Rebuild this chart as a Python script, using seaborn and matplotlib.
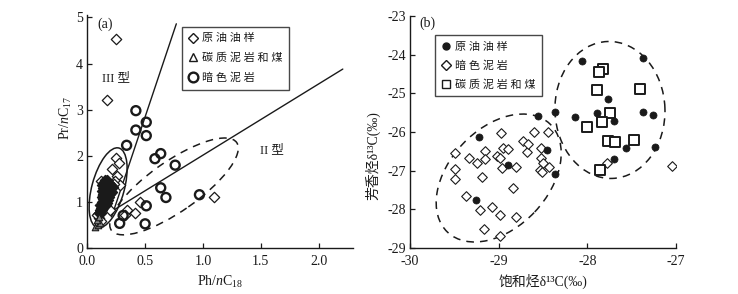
import matplotlib
matplotlib.use('Agg')
import matplotlib.pyplot as plt
import matplotlib.transforms as mtransforms
from matplotlib.patches import Ellipse
from matplotlib.lines import Line2D
import seaborn as sns

# ---- (a) Pr/nC17 - Ph/nC18 ----
oil_a_x = [0.25, 0.17, 0.25, 0.27, 0.21, 0.26, 0.24, 0.28, 0.14, 0.11, 0.095,
           0.20, 0.34, 0.41, 0.46, 0.33, 1.10, 0.10, 0.12, 0.08, 0.12, 0.23]
oil_a_y = [4.54, 3.21, 1.95, 1.85, 1.72, 1.56, 1.45, 1.36, 1.15, 0.93, 0.75,
           0.83, 0.82, 0.76, 1.01, 0.72, 1.12, 0.65, 0.60, 0.72, 1.45, 1.40]
# dense oil samples inside the solid ellipse (overlap into a dark patch)
oil_cl_x = [0.15, 0.17, 0.14, 0.16, 0.185, 0.20, 0.13, 0.155, 0.17, 0.19, 0.21,
            0.14, 0.16, 0.18, 0.20, 0.22, 0.13, 0.15, 0.175, 0.19, 0.21,
            0.14, 0.16, 0.18, 0.20, 0.13, 0.15, 0.17, 0.19, 0.14, 0.16, 0.18,
            0.13, 0.15, 0.17, 0.12, 0.14, 0.16, 0.12, 0.14, 0.11, 0.13,
            0.10, 0.12]
oil_cl_y = [1.48, 1.47, 1.42, 1.43, 1.41, 1.40, 1.36, 1.37, 1.35, 1.36, 1.34,
            1.30, 1.31, 1.29, 1.30, 1.32, 1.24, 1.25, 1.23, 1.24, 1.22,
            1.18, 1.19, 1.17, 1.18, 1.12, 1.13, 1.11, 1.12, 1.06, 1.07, 1.05,
            1.00, 1.01, 0.99, 0.94, 0.95, 0.93, 0.88, 0.87, 0.82, 0.83,
            0.76, 0.77]
coal_a_x = [0.07, 0.09, 0.11, 0.08, 0.10]
coal_a_y = [0.47, 0.50, 0.55, 0.62, 0.68]
mud_a_x = [0.42, 0.51, 0.42, 0.51, 0.34, 0.585, 0.635, 0.76, 0.635, 0.68,
           0.97, 0.51, 0.31, 0.28, 0.50]
mud_a_y = [2.98, 2.73, 2.56, 2.44, 2.23, 1.94, 2.05, 1.80, 1.31, 1.10,
           1.16, 0.92, 0.71, 0.54, 0.53]
# type boundary lines
line3_x = [0.23, 0.77]
line3_y = [0.83, 4.86]
line2_x = [0.23, 2.21]
line2_y = [0.83, 3.88]

# ---- (b) aromatic vs saturated d13C ----
oil_b_x = [-28.06, -27.37, -27.77, -28.36, -28.56, -28.14, -27.89, -27.70,
           -27.37, -27.26, -27.56, -27.24, -27.70, -29.22, -28.46, -28.89,
           -28.36, -29.26]
oil_b_y = [-24.17, -24.09, -25.15, -25.47, -25.58, -25.60, -25.52, -25.71,
           -25.47, -25.56, -26.42, -26.38, -26.71, -26.14, -26.47, -26.85,
           -27.09, -27.76]
mud_b_x = [-29.49, -29.49, -29.49, -29.33, -29.25, -29.16, -29.15, -29.19,
           -28.97, -29.02, -28.95, -28.89, -28.98, -28.96, -28.80, -28.73,
           -28.68, -28.67, -28.60, -28.44, -28.52, -28.52, -28.50, -28.53,
           -28.51, -28.43, -28.84, -29.37, -29.21, -29.08, -28.99, -28.80,
           -29.17, -28.98, -27.78, -27.04]
mud_b_y = [-26.55, -26.95, -27.21, -26.67, -26.79, -26.48, -26.71, -27.16,
           -26.03, -26.62, -26.41, -26.44, -26.68, -26.94, -26.90, -26.23,
           -26.51, -26.32, -26.01, -26.00, -26.41, -26.68, -26.79, -26.98,
           -27.03, -26.90, -27.46, -27.66, -28.03, -27.93, -28.15, -28.21,
           -28.52, -28.69, -26.79, -26.87]
coal_b_x = [-27.82, -27.87, -27.89, -27.41, -27.75, -27.83, -28.00, -27.77,
            -27.69, -27.47, -27.86]
coal_b_y = [-24.38, -24.45, -24.91, -24.89, -25.52, -25.73, -25.88, -26.23,
            -26.25, -26.21, -26.97]

ink = '#1a1a1a'

sns.set_theme(style='ticks')
plt.rcParams['font.family'] = ['Liberation Serif', 'Noto Sans CJK SC']
plt.rcParams['mathtext.fontset'] = 'custom'
plt.rcParams['mathtext.rm'] = 'Liberation Serif'
plt.rcParams['mathtext.it'] = 'Liberation Serif:italic'
plt.rcParams['axes.unicode_minus'] = False
plt.rcParams['xtick.direction'] = 'in'
plt.rcParams['ytick.direction'] = 'in'
plt.rcParams['axes.edgecolor'] = ink
plt.rcParams['xtick.color'] = ink
plt.rcParams['ytick.color'] = ink
plt.rcParams['text.color'] = ink
plt.rcParams['axes.labelcolor'] = ink

fig = plt.figure(figsize=(7.38, 2.94), dpi=100)
ax1 = fig.add_axes([0.1183, 0.1554, 0.3603, 0.7935])
ax2 = fig.add_axes([0.5556, 0.1565, 0.3604, 0.789])


def draw_ellipse(ax, cx, cy, a_px, b_px, angle, ls):
    # semi axes given in figure pixels (dpi 100), centre in data units
    tr = fig.dpi_scale_trans + mtransforms.ScaledTranslation(cx, cy, ax.transData)
    e = Ellipse((0, 0), 2 * a_px / 100, 2 * b_px / 100, angle=angle,
                transform=tr, fill=False, edgecolor=ink, lw=1.1, linestyle=ls)
    ax.add_patch(e)


# ---------- panel (a) ----------
ax1.set_xlim(0, 2.3)
ax1.set_ylim(0, 5.05)
ax1.plot(line3_x, line3_y, color=ink, lw=1.0)
ax1.plot(line2_x, line2_y, color=ink, lw=1.0)
draw_ellipse(ax1, 0.18, 1.31, 41.2, 16.2, 74.8, '-')
draw_ellipse(ax1, 0.75, 1.34, 76.5, 25, 35, (0, (5, 4)))

sns.scatterplot(x=oil_a_x, y=oil_a_y, marker='D', s=28, facecolor='white',
                edgecolor=ink, linewidth=0.9, ax=ax1, legend=False, zorder=3)
sns.scatterplot(x=oil_cl_x, y=oil_cl_y, marker='D', s=26, facecolor=ink,
                edgecolor=ink, linewidth=1.0, ax=ax1, legend=False, zorder=3)
sns.scatterplot(x=coal_a_x, y=coal_a_y, marker='^', s=22, facecolor='#888888',
                edgecolor=ink, linewidth=0.8, ax=ax1, legend=False, zorder=3)
sns.scatterplot(x=mud_a_x, y=mud_a_y, marker='o', s=42, facecolor='none',
                edgecolor=ink, linewidth=1.7, ax=ax1, legend=False, zorder=4)

ax1.set_xticks([0.0, 0.5, 1.0, 1.5, 2.0])
ax1.set_xticklabels(['0.0', '0.5', '1.0', '1.5', '2.0'])
ax1.set_yticks([0, 1, 2, 3, 4, 5])
ax1.set_xlabel(r'Ph/$n$C$_{18}$', fontsize=10)
ax1.set_ylabel(r'Pr/$n$C$_{17}$', fontsize=10)
ax1.xaxis.set_label_coords(0.5, -0.11)
ax1.yaxis.set_label_coords(-0.05, 0.56)
ax1.text(0.087, 4.86, '(a)', fontsize=10, va='center')
ax1.text(0.125, 3.69, 'III 型', fontsize=9, va='center')
ax1.text(1.49, 2.12, 'II 型', fontsize=9, va='center')

h1 = [Line2D([], [], marker='D', ls='none', mfc='white', mec=ink, ms=5, mew=1),
      Line2D([], [], marker='^', ls='none', mfc='white', mec=ink, ms=6, mew=1),
      Line2D([], [], marker='o', ls='none', mfc='white', mec=ink, ms=7, mew=1.7)]
leg1 = ax1.legend(h1, ['原 油 油 样', '碳 质 泥 岩 和 煤', '暗 色 泥 岩'],
                  loc='upper left', bbox_to_anchor=(0.355, 0.95), borderaxespad=0,
                  fontsize=8, frameon=True, fancybox=False, edgecolor=ink,
                  handlelength=0.8, handletextpad=0.4, borderpad=0.6,
                  labelspacing=0.85)
leg1.get_frame().set_linewidth(1.0)

# ---------- panel (b) ----------
ax2.set_xlim(-30, -27)
ax2.set_ylim(-29, -23)
draw_ellipse(ax2, -29.0, -27.19, 74.5, 49.5, 46.7, (0, (5, 4)))
draw_ellipse(ax2, -27.745, -25.43, 68.5, 55, 92, (0, (5, 4)))

sns.scatterplot(x=mud_b_x, y=mud_b_y, marker='D', s=24, facecolor='white',
                edgecolor=ink, linewidth=0.8, ax=ax2, legend=False, zorder=3)
sns.scatterplot(x=oil_b_x, y=oil_b_y, marker='o', s=26, color=ink,
                edgecolor=ink, linewidth=0.5, ax=ax2, legend=False, zorder=4)
sns.scatterplot(x=coal_b_x, y=coal_b_y, marker='s', s=45, facecolor='white',
                edgecolor=ink, linewidth=1.4, ax=ax2, legend=False, zorder=4)

ax2.set_xticks([-30, -29, -28, -27])
ax2.set_yticks([-29, -28, -27, -26, -25, -24, -23])
ax2.set_xlabel('饱和烃δ¹³C(‰)', fontsize=10)
ax2.set_ylabel('芳香烃δ¹³C(‰)', fontsize=10)
ax2.xaxis.set_label_coords(0.5, -0.11)
ax2.yaxis.set_label_coords(-0.11, 0.40)
ax2.text(-29.9, -23.2, '(b)', fontsize=10, va='center')

h2 = [Line2D([], [], marker='o', ls='none', mfc=ink, mec=ink, ms=5),
      Line2D([], [], marker='D', ls='none', mfc='white', mec=ink, ms=5, mew=1),
      Line2D([], [], marker='s', ls='none', mfc='white', mec=ink, ms=6, mew=1)]
leg2 = ax2.legend(h2, ['原 油 油 样', '暗 色 泥 岩', '碳 质 泥 岩 和 煤'],
                  loc='upper left', bbox_to_anchor=(0.094, 0.918), borderaxespad=0,
                  fontsize=8, frameon=True, fancybox=False, edgecolor=ink,
                  handlelength=0.8, handletextpad=0.4, borderpad=0.6,
                  labelspacing=0.75)
leg2.get_frame().set_linewidth(1.0)

for ax in (ax1, ax2):
    sns.despine(ax=ax)
    ax.tick_params(axis='both', labelsize=10, length=3.5, width=0.9)
    ax.tick_params(axis='x', pad=5)
    ax.tick_params(axis='y', pad=3)
    for sp in ax.spines.values():
        sp.set_linewidth(1.0)

fig.savefig('out.png', dpi=100)
